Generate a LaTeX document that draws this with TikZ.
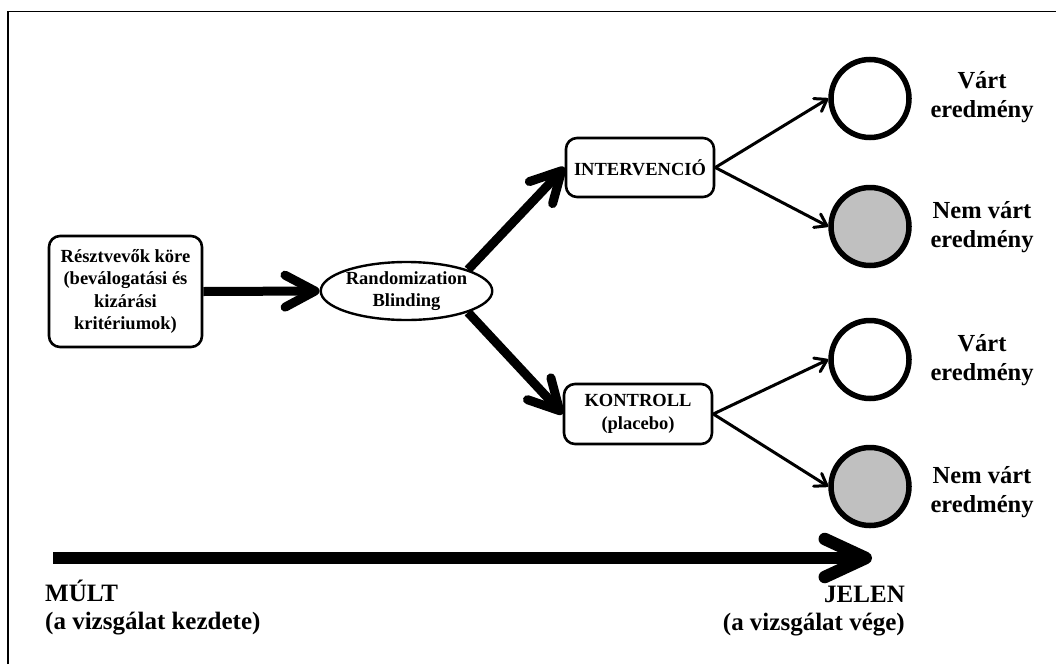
\documentclass[tikz,border=0pt]{standalone}
\usepackage{fontspec}
\setmainfont{Liberation Serif}
\usetikzlibrary{arrows.meta,shapes.geometric}
\definecolor{outcomegray}{HTML}{C0C0C0}

\begin{document}
\begin{tikzpicture}[x=1pt,y=-1pt,
  boxfont/.style={font=\bfseries\fontsize{18.5}{22.5}\selectfont},
  bigfont/.style={font=\bfseries\fontsize{24.5}{29}\selectfont},
  timefont/.style={font=\bfseries\fontsize{25}{28}\selectfont},
  stagebox/.style={draw, rounded corners=11pt, line width=2.6pt, align=center,
    inner sep=0pt, boxfont},
  hub/.style={draw, ellipse, line width=2.4pt, align=center, inner sep=0pt,
    minimum width=155pt, minimum height=58pt, boxfont},
  outcome/.style={draw, circle, line width=5.5pt, minimum size=78pt, inner sep=0pt},
  good/.style={outcome, fill=white},
  bad/.style={outcome, fill=outcomegray},
  outlabel/.style={align=center, inner sep=0pt, bigfont},
  thickarrow/.style={line width=9pt,
    -{Straight Barb[length=30pt, width=32pt, round]}},
  thinarrow/.style={line width=3pt,
    -{Straight Barb[length=11pt, width=15pt, round]}},
  timearrow/.style={line width=12.5pt,
    -{Straight Barb[length=41pt, width=38pt, round]}}
]
\useasboundingbox (0,0) rectangle (1056,664);

% frame
\draw[line width=1.8pt] (8,664) -- (8,11.5) -- (1056,11.5);

% participants, allocation and the two arms
\node[stagebox, minimum width=153pt, minimum height=111pt] (pool) at (125.5,291.5)
  {Résztvevők köre\\(beválogatási és\\kizárási\\kritériumok)};
\node[hub] (rand) at (406.5,291) {Randomization\\Blinding};
\node[stagebox, minimum width=148pt, minimum height=59pt] (interv) at (640,167.5)
  {INTERVENCIÓ};
\node[stagebox, minimum width=148pt, minimum height=60pt] (ctrl) at (638,414)
  {KONTROLL\\(placebo)};

% outcomes
\node[good] (o1) at (870,98.5) {};
\node[bad]  (o2) at (870,226.5) {};
\node[good] (o3) at (870,359.5) {};
\node[bad]  (o4) at (870,486.5) {};

\node[outlabel] (l1) at (982,97)  {Várt\\eredmény};
\node[outlabel] (l2) at (982,227) {Nem várt\\eredmény};
\node[outlabel] (l3) at (982,360) {Várt\\eredmény};
\node[outlabel] (l4) at (982,492) {Nem várt\\eredmény};

% connectors
\draw[thickarrow] (pool.east) -- (rand.west);
\draw[thickarrow] (rand.north east) -- (interv.west);
\draw[thickarrow] (rand.south east) -- (ctrl.west);

\draw[thinarrow] (interv.east) -- (o1.west);
\draw[thinarrow] (interv.east) -- (o2.west);
\draw[thinarrow] (ctrl.east) -- (o3.west);
\draw[thinarrow] (ctrl.east) -- (o4.west);

% time axis
\coordinate (tstart) at (53,558);
\coordinate (tend) at (872,558);
\draw[timearrow] (tstart) -- (tend);

\node[timefont, align=left, anchor=north west, inner sep=0pt] (past) at (45,580)
  {MÚLT\\(a vizsgálat kezdete)};
\node[timefont, align=right, anchor=north east, inner sep=0pt] (now) at (905,586)
  {JELEN\\(a vizsgálat vége)};
\end{tikzpicture}
\end{document}
